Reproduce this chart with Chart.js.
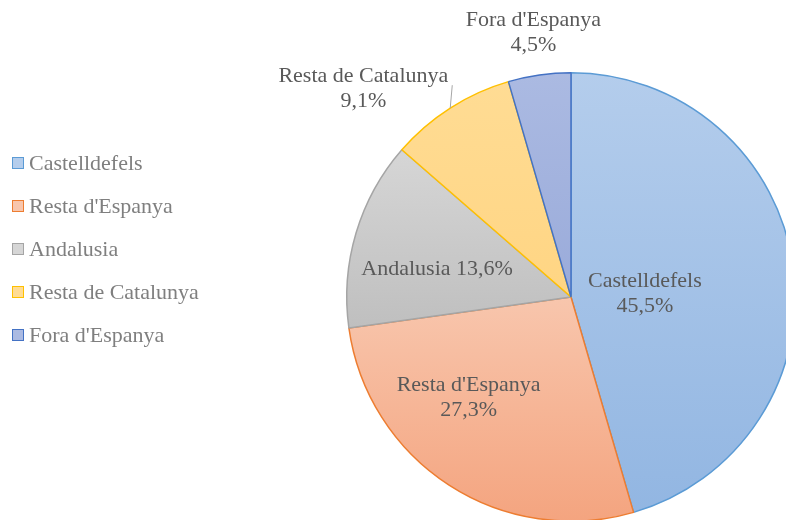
<!DOCTYPE html>
<html>
<head>
<meta charset="utf-8">
<script src="https://cdn.jsdelivr.net/npm/chart.js@4"></script>
<style>
  html, body { margin: 0; padding: 0; background: #fff; }
  #wrap { position: relative; width: 786px; height: 520px; overflow: hidden; }
  #pie { position: absolute; left: 0; top: 0; }
  #legend { position: absolute; left: 12px; top: 141px; font-family: "Liberation Serif", serif; font-size: 22px; color: #7f7f7f; }
  #legend .item { display: flex; align-items: center; height: 43px; }
  #legend .box { width: 10px; height: 10px; margin-right: 5px; border: 1.5px solid; }
</style>
</head>
<body>
<div id="wrap">
  <canvas id="pie" width="830" height="560"></canvas>
  <div id="legend"></div>
</div>
<script>
const categories = ['Castelldefels', "Resta d'Espanya", 'Andalusia', 'Resta de Catalunya', "Fora d'Espanya"];
const percents = [45.5, 27.3, 13.6, 9.1, 4.5];

const lightColors = ['#b4cdec', '#f8c6ad', '#d6d6d6', '#ffdc94', '#abbae2'];
const darkColors = ['#92b6e2', '#f4a47f', '#bfbfbf', '#ffd583', '#9aabda'];
const edgeColors = ['#5b9bd5', '#ed7d31', '#a5a5a5', '#ffc000', '#4472c4'];

// label placement: fraction of radius and angle nudge (degrees)
const labelFrac = [0.33, 0.64, 0.61, 1.31, 1.19];
const labelTurn = [5.4, 12.6, -4.8, -12.4, 0];

const fmt = v => v.toFixed(1).replace('.', ',') + '%';

// legend (html text)
const legendEl = document.getElementById('legend');
categories.forEach((c, i) => {
  const item = document.createElement('div');
  item.className = 'item';
  const box = document.createElement('span');
  box.className = 'box';
  box.style.background = lightColors[i];
  box.style.borderColor = edgeColors[i];
  item.appendChild(box);
  item.appendChild(document.createTextNode(c));
  legendEl.appendChild(item);
});

// vertical gradient spanning each slice's own height
function sliceGradient(context) {
  const chart = context.chart;
  const i = context.dataIndex;
  const area = chart.chartArea;
  if (!area) return lightColors[i];
  const cx = (area.left + area.right) / 2, cy = (area.top + area.bottom) / 2;
  const R = Math.min(area.right - area.left, area.bottom - area.top) / 2;
  const total = percents.reduce((a, b) => a + b, 0);
  const before = percents.slice(0, i).reduce((a, b) => a + b, 0);
  const s = -Math.PI / 2 + before / total * 2 * Math.PI;
  const e = s + percents[i] / total * 2 * Math.PI;
  const ys = [cy, cy + Math.sin(s) * R, cy + Math.sin(e) * R];
  for (let k = -2; k <= 2; k++) {
    const a = Math.PI / 2 + k * Math.PI;
    if (a > s && a < e) ys.push(cy + Math.sin(a) * R);
  }
  const top = Math.min(...ys), bot = Math.max(...ys);
  const g = chart.ctx.createLinearGradient(0, top, 0, bot);
  g.addColorStop(0, lightColors[i]);
  g.addColorStop(1, darkColors[i]);
  return g;
}

const sliceLabels = {
  id: 'sliceLabels',
  afterDatasetsDraw(chart) {
    const ctx = chart.ctx;
    const arcs = chart.getDatasetMeta(0).data;
    ctx.save();
    ctx.font = '22px "Liberation Serif", serif';
    ctx.fillStyle = '#595959';
    ctx.textAlign = 'center';
    ctx.textBaseline = 'middle';
    arcs.forEach((arc, i) => {
      const p = arc.getProps(['x', 'y', 'startAngle', 'endAngle', 'outerRadius']);
      const mid = (p.startAngle + p.endAngle) / 2;
      const a = mid + labelTurn[i] * Math.PI / 180;
      const r = p.outerRadius * labelFrac[i];
      const lx = p.x + Math.cos(a) * r;
      const ly = p.y + Math.sin(a) * r;
      const lines = i === 2 ? [categories[i] + ' ' + fmt(percents[i])] : [categories[i], fmt(percents[i])];
      const lh = 25;
      lines.forEach((t, k) => {
        ctx.fillText(t, lx, ly + (k - (lines.length - 1) / 2) * lh);
      });
      if (i === 3) {
        // leader line from slice edge to the label
        const w = ctx.measureText(lines[0]).width;
        const ex = p.x + Math.cos(mid) * p.outerRadius;
        const ey = p.y + Math.sin(mid) * p.outerRadius;
        ctx.strokeStyle = '#a6a6a6';
        ctx.lineWidth = 1;
        ctx.beginPath();
        ctx.moveTo(ex, ey);
        ctx.lineTo(lx + w / 2 + 4, ly - 4);
        ctx.stroke();
      }
    });
    ctx.restore();
  }
};

new Chart(document.getElementById('pie'), {
  type: 'pie',
  data: {
    labels: categories,
    datasets: [{
      data: percents,
      backgroundColor: sliceGradient,
      borderColor: edgeColors,
      borderWidth: 1.5
    }]
  },
  options: {
    responsive: false,
    animation: false,
    layout: { padding: { left: 346, top: 72, right: 34, bottom: 38 } },
    plugins: {
      legend: { display: false },
      tooltip: { enabled: false }
    }
  },
  plugins: [sliceLabels]
});
</script>
</body>
</html>
